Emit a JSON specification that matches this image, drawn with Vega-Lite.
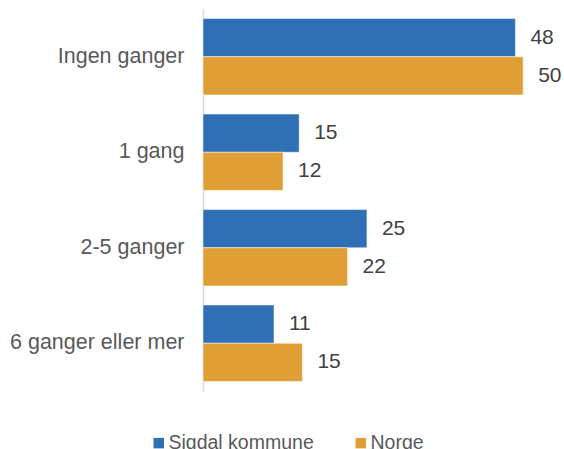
{
  "$schema": "https://vega.github.io/schema/vega-lite/v6.json",
  "width": 355,
  "height": 382,
  "autosize": {"type": "none"},
  "padding": {"left": 203, "top": 9, "right": 6, "bottom": 58},
  "background": "white",
  "config": {"view": {"stroke": null}, "font": "Liberation Sans"},
  "data": {
    "values": [
      {"kategori": "Ingen ganger", "serie": "Sigdal kommune", "verdi": 48.4},
      {"kategori": "Ingen ganger", "serie": "Norge", "verdi": 49.6},
      {"kategori": "1 gang", "serie": "Sigdal kommune", "verdi": 14.9},
      {"kategori": "1 gang", "serie": "Norge", "verdi": 12.4},
      {"kategori": "2-5 ganger", "serie": "Sigdal kommune", "verdi": 25.4},
      {"kategori": "2-5 ganger", "serie": "Norge", "verdi": 22.4},
      {"kategori": "6 ganger eller mer", "serie": "Sigdal kommune", "verdi": 11.0},
      {"kategori": "6 ganger eller mer", "serie": "Norge", "verdi": 15.4}
    ]
  },
  "encoding": {
    "y": {
      "field": "kategori", "type": "nominal",
      "sort": ["Ingen ganger", "1 gang", "2-5 ganger", "6 ganger eller mer"],
      "scale": {"paddingInner": 0.2, "paddingOuter": 0.1},
      "axis": {"title": null, "ticks": false, "domainColor": "#d9d9d9", "domainWidth": 1.5,
               "labelFontSize": 21.5, "labelColor": "#595959", "labelPadding": 19, "labelFont": "Liberation Sans"}
    },
    "yOffset": {"field": "serie", "type": "nominal", "sort": ["Sigdal kommune", "Norge"], "scale": {"paddingInner": 0, "paddingOuter": 0}},
    "x": {"field": "verdi", "type": "quantitative", "scale": {"domain": [0, 55], "nice": false}, "axis": null}
  },
  "layer": [
    {
      "mark": {"type": "bar", "stroke": "white", "strokeWidth": 0.5},
      "encoding": {
        "color": {
          "field": "serie", "type": "nominal",
          "sort": ["Sigdal kommune", "Norge"],
          "scale": {"domain": ["Sigdal kommune", "Norge"], "range": ["#2E6FB6", "#E09F36"]},
          "legend": {
            "title": null, "orient": "none", "direction": "horizontal",
            "legendX": -54, "legendY": 424,
            "symbolType": "square", "symbolSize": 110, "symbolStrokeWidth": 0,
            "labelFontSize": 19.5, "labelColor": "#595959", "labelOffset": 0,
            "columnPadding": 37, "labelFont": "Liberation Sans"
          }
        }
      }
    },
    {
      "mark": {"type": "text", "align": "left", "baseline": "middle", "dx": 15, "fontSize": 21, "color": "#404040", "font": "Liberation Sans"},
      "encoding": {"text": {"field": "verdi", "type": "quantitative", "format": ".0f"}}
    }
  ]
}
